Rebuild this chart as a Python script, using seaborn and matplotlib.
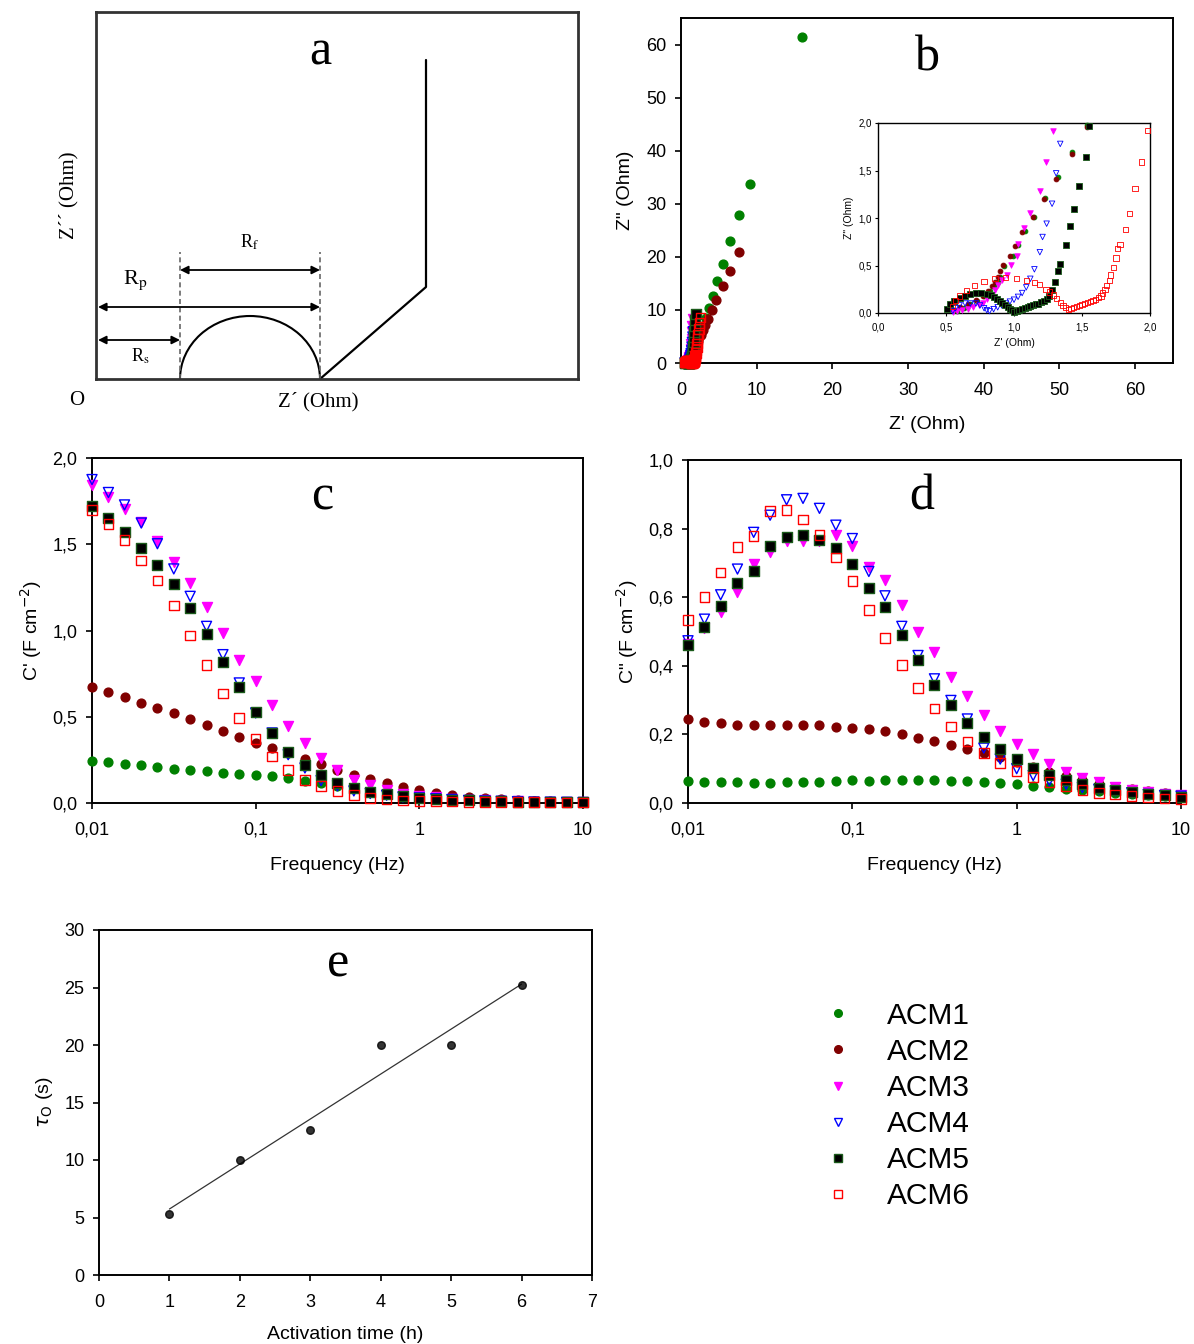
import numpy as np
import pandas as pd
import matplotlib
matplotlib.use("Agg")
import matplotlib.pyplot as plt
import seaborn as sns
from matplotlib.patches import Arc
from matplotlib.lines import Line2D
from matplotlib.ticker import FuncFormatter, NullLocator

# ---------------- data ----------------
series = ["ACM1", "ACM2", "ACM3", "ACM4", "ACM5", "ACM6"]

# Panel b : Nyquist data  (Z' , Z'')
b_zr_acm1 = [0.58, 0.63, 0.68, 0.73, 0.78, 0.82, 0.85, 0.88, 0.90, 0.93, 0.99, 1.03, 1.08, 1.15, 1.23, 1.32, 1.43, 1.54,
             1.68, 1.85, 2.05, 2.3, 2.6, 2.95, 3.3, 3.75, 4.2, 4.81, 5.5, 6.5, 7.6, 9.1, 16.0]
b_zi_acm1 = [0.02, 0.05, 0.09, 0.13, 0.18, 0.23, 0.28, 0.33, 0.38, 0.50, 0.60, 0.72, 0.86, 1.01, 1.21, 1.43, 1.70, 1.98,
             2.35, 2.9, 3.6, 4.5, 5.7, 7.0, 8.5, 10.3, 12.6, 15.4, 18.6, 22.9, 27.8, 33.7, 61.4]
b_zr_acm2 = [0.55, 0.60, 0.66, 0.72, 0.77, 0.81, 0.84, 0.86, 0.88, 0.90, 0.92, 0.97, 1.01, 1.06, 1.14, 1.22, 1.31, 1.43, 1.54,
             1.68, 1.85, 2.05, 2.3, 2.6, 2.9, 3.2, 3.58, 4.08, 4.6, 5.5, 6.45, 7.6]
b_zi_acm2 = [0.03, 0.06, 0.10, 0.14, 0.18, 0.23, 0.28, 0.33, 0.38, 0.44, 0.51, 0.60, 0.71, 0.85, 1.01, 1.20, 1.41, 1.67, 1.96,
             2.3, 2.8, 3.4, 4.2, 5.2, 6.2, 7.1, 8.2, 9.9, 11.9, 14.5, 17.4, 21.0]
b_zr_acm3 = [0.55, 0.58, 0.62, 0.66, 0.70, 0.74, 0.77, 0.80, 0.83, 0.86, 0.88, 0.91, 0.95, 0.98, 1.02, 1.03, 1.07, 1.12,
             1.19, 1.235, 1.29, 1.33, 1.37, 1.41, 1.45, 1.50, 1.55]
b_zi_acm3 = [0.01, 0.02, 0.03, 0.04, 0.06, 0.08, 0.11, 0.15, 0.19, 0.24, 0.30, 0.35, 0.40, 0.51, 0.60, 0.73, 0.90, 1.05,
             1.28, 1.59, 1.92, 2.6, 3.5, 4.6, 5.8, 7.0, 8.2]
b_zr_acm4 = [0.55, 0.57, 0.60, 0.64, 0.68, 0.72, 0.75, 0.78, 0.80, 0.82, 0.85, 0.88, 0.91, 0.94, 0.97, 1.00, 1.03, 1.06,
             1.09, 1.12, 1.15, 1.19, 1.21, 1.24, 1.28, 1.31, 1.34, 1.39, 1.44, 1.50, 1.56, 1.62]
b_zi_acm4 = [0.02, 0.05, 0.08, 0.10, 0.10, 0.10, 0.08, 0.05, 0.03, 0.02, 0.04, 0.06, 0.08, 0.10, 0.12, 0.14, 0.17, 0.21,
             0.27, 0.36, 0.46, 0.64, 0.80, 0.94, 1.15, 1.47, 1.78, 2.3, 3.0, 3.9, 4.9, 5.9]
b_zr_acm5 = [0.51, 0.53, 0.56, 0.60, 0.64, 0.68, 0.72, 0.76, 0.80, 0.83, 0.855, 0.875, 0.895, 0.915, 0.935, 0.955, 0.97,
             0.985, 1.00, 1.02, 1.04, 1.06, 1.08, 1.10, 1.12, 1.14, 1.16, 1.18, 1.20, 1.22, 1.24, 1.26, 1.28, 1.30,
             1.32, 1.34, 1.38, 1.41, 1.44, 1.48, 1.53, 1.55, 1.60, 1.64, 1.68, 1.72, 1.76, 1.81, 1.86, 1.92]
b_zi_acm5 = [0.04, 0.09, 0.13, 0.16, 0.18, 0.20, 0.21, 0.21, 0.20, 0.185, 0.165, 0.145, 0.125, 0.105, 0.085, 0.065, 0.045,
             0.03, 0.015, 0.02, 0.03, 0.04, 0.05, 0.06, 0.07, 0.08, 0.09, 0.10, 0.115, 0.13, 0.15, 0.18, 0.24, 0.33,
             0.44, 0.52, 0.72, 0.92, 1.10, 1.34, 1.64, 1.97, 2.5, 3.2, 4.0, 4.9, 5.9, 7.0, 8.1, 9.2]
b_zr_acm6 = [0.55, 0.57, 0.60, 0.65, 0.71, 0.78, 0.86, 0.94, 1.02, 1.09, 1.15, 1.19, 1.235, 1.26, 1.29, 1.31, 1.34, 1.36,
             1.38, 1.40, 1.42, 1.44, 1.46, 1.48, 1.50, 1.52, 1.54, 1.56, 1.58, 1.60, 1.62, 1.64, 1.65, 1.67, 1.68, 1.70,
             1.71, 1.73, 1.75, 1.76, 1.78, 1.82, 1.85, 1.89, 1.94, 1.98, 2.03, 2.08, 2.14, 2.20, 2.28, 2.36, 2.46, 2.58]
b_zi_acm6 = [0.07, 0.13, 0.18, 0.24, 0.29, 0.33, 0.36, 0.37, 0.36, 0.34, 0.32, 0.30, 0.25, 0.22, 0.19, 0.15, 0.11, 0.08,
             0.055, 0.04, 0.045, 0.06, 0.07, 0.08, 0.09, 0.10, 0.11, 0.12, 0.13, 0.14, 0.16, 0.18, 0.21, 0.25, 0.29, 0.34,
             0.40, 0.48, 0.58, 0.68, 0.72, 0.88, 1.05, 1.31, 1.59, 1.92, 2.4, 3.0, 3.7, 4.5, 5.4, 6.4, 7.5, 8.6]

# Panels c, d : frequency (Hz)
freq = [0.01, 0.0126, 0.0158, 0.02, 0.0251, 0.0316, 0.0398, 0.0501, 0.0631, 0.0794,
        0.1, 0.126, 0.158, 0.2, 0.251, 0.316, 0.398, 0.501, 0.631, 0.794,
        1.0, 1.26, 1.58, 2.0, 2.51, 3.16, 3.98, 5.01, 6.31, 7.94, 10.0]

c_acm1 = [0.245, 0.24, 0.228, 0.22, 0.21, 0.20, 0.19, 0.185, 0.175, 0.17, 0.16, 0.155, 0.145, 0.13, 0.115, 0.10,
          0.09, 0.07, 0.06, 0.05, 0.042, 0.035, 0.03, 0.025, 0.02, 0.016, 0.013, 0.01, 0.008, 0.006, 0.005]
c_acm2 = [0.675, 0.645, 0.615, 0.58, 0.55, 0.52, 0.485, 0.45, 0.415, 0.385, 0.345, 0.32, 0.29, 0.255, 0.225, 0.19,
          0.165, 0.14, 0.115, 0.095, 0.075, 0.06, 0.045, 0.035, 0.028, 0.022, 0.017, 0.013, 0.01, 0.008, 0.006]
c_acm3 = [1.845, 1.775, 1.705, 1.63, 1.52, 1.40, 1.275, 1.135, 0.985, 0.83, 0.705, 0.57, 0.448, 0.348, 0.26, 0.19,
          0.135, 0.104, 0.075, 0.055, 0.042, 0.032, 0.025, 0.02, 0.015, 0.012, 0.01, 0.008, 0.006, 0.005, 0.004]
c_acm4 = [1.875, 1.80, 1.728, 1.623, 1.503, 1.357, 1.198, 1.024, 0.86, 0.696, 0.522, 0.406, 0.28, 0.203, 0.13,
          0.10, 0.07, 0.055, 0.045, 0.035, 0.03, 0.025, 0.02, 0.015, 0.012, 0.01, 0.008, 0.006, 0.005, 0.004, 0.003]
c_acm5 = [1.724, 1.652, 1.57, 1.476, 1.38, 1.27, 1.13, 0.982, 0.82, 0.672, 0.527, 0.406, 0.296, 0.222, 0.164,
          0.116, 0.087, 0.065, 0.05, 0.04, 0.03, 0.025, 0.02, 0.015, 0.012, 0.01, 0.008, 0.006, 0.005, 0.004, 0.003]
c_acm6 = [1.697, 1.617, 1.523, 1.405, 1.29, 1.144, 0.97, 0.80, 0.634, 0.493, 0.371, 0.27, 0.193, 0.135, 0.097,
          0.068, 0.045, 0.03, 0.02, 0.015, 0.012, 0.01, 0.008, 0.007, 0.006, 0.005, 0.004, 0.004, 0.003, 0.003, 0.003]

d_acm1 = [0.063, 0.062, 0.060, 0.060, 0.058, 0.058, 0.060, 0.060, 0.062, 0.063, 0.066, 0.063, 0.066, 0.066, 0.066,
          0.066, 0.063, 0.063, 0.060, 0.058, 0.055, 0.050, 0.046, 0.042, 0.038, 0.034, 0.030, 0.027, 0.024, 0.021, 0.019]
d_acm2 = [0.245, 0.237, 0.232, 0.228, 0.228, 0.228, 0.228, 0.228, 0.228, 0.222, 0.22, 0.216, 0.21, 0.20, 0.19,
          0.18, 0.168, 0.156, 0.145, 0.134, 0.12, 0.105, 0.09, 0.078, 0.066, 0.056, 0.047, 0.04, 0.034, 0.028, 0.023]
d_acm3 = [0.465, 0.51, 0.558, 0.614, 0.696, 0.732, 0.764, 0.764, 0.765, 0.782, 0.75, 0.689, 0.651, 0.577, 0.50,
          0.44, 0.367, 0.311, 0.257, 0.211, 0.173, 0.144, 0.115, 0.09, 0.072, 0.06, 0.048, 0.038, 0.032, 0.027, 0.022]
d_acm4 = [0.473, 0.536, 0.607, 0.682, 0.789, 0.839, 0.884, 0.888, 0.859, 0.81, 0.771, 0.675, 0.604, 0.515, 0.43,
          0.362, 0.299, 0.245, 0.16, 0.128, 0.10, 0.08, 0.065, 0.055, 0.045, 0.04, 0.035, 0.03, 0.025, 0.022, 0.02]
d_acm5 = [0.461, 0.512, 0.573, 0.64, 0.675, 0.75, 0.776, 0.782, 0.766, 0.743, 0.696, 0.627, 0.57, 0.49, 0.417,
          0.344, 0.287, 0.234, 0.192, 0.156, 0.127, 0.102, 0.082, 0.068, 0.055, 0.045, 0.038, 0.032, 0.027, 0.022, 0.018]
d_acm6 = [0.534, 0.601, 0.672, 0.747, 0.779, 0.852, 0.854, 0.827, 0.781, 0.716, 0.648, 0.563, 0.481, 0.403, 0.336,
          0.276, 0.223, 0.179, 0.146, 0.116, 0.093, 0.076, 0.061, 0.048, 0.038, 0.03, 0.025, 0.02, 0.016, 0.013, 0.012]

# Panel e
activation_time = [1, 2, 3, 4, 5, 6]
tau_o = [5.3, 10.0, 12.6, 20.0, 20.0, 25.2]

# ---------------- styles ----------------
styles = {
    "ACM1": dict(marker="o", color="#008000", face="#008000", edge="#008000", s=40),
    "ACM2": dict(marker="o", color="#800000", face="#800000", edge="#800000", s=40),
    "ACM3": dict(marker="v", color="#FF00FF", face="#FF00FF", edge="#FF00FF", s=52),
    "ACM4": dict(marker="v", color="#0000FF", face="none", edge="#0000FF", s=52),
    "ACM5": dict(marker="s", color="black", face="black", edge="#1a5a1a", s=48),
    "ACM6": dict(marker="s", color="red", face="none", edge="#FF0000", s=48),
}

sns.set_style("ticks")
plt.rcParams["font.family"] = ["Liberation Sans", "DejaVu Sans"]
plt.rcParams["axes.linewidth"] = 1.4
plt.rcParams["axes.edgecolor"] = "black"
plt.rcParams["axes.labelcolor"] = "black"
plt.rcParams["text.color"] = "black"
plt.rcParams["xtick.color"] = "black"
plt.rcParams["ytick.color"] = "black"
plt.rcParams["xtick.major.width"] = 1.2
plt.rcParams["ytick.major.width"] = 1.2
plt.rcParams["xtick.major.size"] = 4
plt.rcParams["ytick.major.size"] = 4

W, H = 1194, 1344
fig = plt.figure(figsize=(W / 100, H / 100), dpi=100)


def rect(left, top, right, bottom):
    return [left / W, 1 - bottom / H, (right - left) / W, (bottom - top) / H]


def comma(fmt):
    return FuncFormatter(lambda v, p: format(v, fmt).replace(".", ","))


def scat(ax, x, y, name, scale=1.0):
    st = styles[name]
    sns.scatterplot(x=x, y=y, ax=ax, marker=st["marker"], color=st["color"],
                    facecolor=st["face"], edgecolor=st["edge"], s=st["s"] * scale,
                    linewidth=1.0 * max(scale, 0.6), legend=False, clip_on=False, zorder=3)


def main_ticks(ax):
    ax.tick_params(labelsize=13, direction="out", length=4)
    ax.tick_params(axis="x", pad=9.5)
    ax.tick_params(axis="y", pad=6.5)


def panel_letter(x, y, txt):
    fig.text(x / W, 1 - y / H, txt, fontsize=36, family="Liberation Serif",
             ha="center", va="center")

# ---------------- panel a (schematic) ----------------
axA = fig.add_axes(rect(96, 12, 578, 379))
axA.set_xlim(0, 482)
axA.set_ylim(0, 367)
axA.set_xticks([])
axA.set_yticks([])
for sp in axA.spines.values():
    sp.set_linewidth(2)
    sp.set_color("#333333")
semi_center, semi_w, semi_h = 154, 140, 126
axA.add_patch(Arc((semi_center, 0), semi_w, semi_h, theta1=0, theta2=180, lw=1.5, color="black"))
warburg_x = [224, 330, 330]
warburg_y = [0, 92, 319]
axA.plot(warburg_x, warburg_y, color="black", lw=1.6)
for xd in (84, 224):
    axA.plot([xd, xd], [0, 127], ls=(0, (3, 2)), color="#666666", lw=1.2)
arrow_kw = dict(arrowstyle="<|-|>", lw=1.3, color="black", mutation_scale=12, shrinkA=0, shrinkB=0)
axA.annotate("", xy=(84, 109), xytext=(224, 109), arrowprops=arrow_kw)
axA.annotate("", xy=(2, 72), xytext=(224, 72), arrowprops=arrow_kw)
axA.annotate("", xy=(2, 39), xytext=(84, 39), arrowprops=arrow_kw)
axA.text(154, 137, r"R$_\mathrm{f}$", fontsize=13, family="Liberation Serif", math_fontfamily="stix",
         ha="center", va="center")
axA.text(39, 99, r"R$_\mathrm{p}$", fontsize=16, family="Liberation Serif", math_fontfamily="stix",
         ha="center", va="center")
axA.text(44, 23, r"R$_\mathrm{s}$", fontsize=13, family="Liberation Serif", math_fontfamily="stix",
         ha="center", va="center")
axA.text(-19, -21, "O", fontsize=15, family="Liberation Serif", ha="center", va="center")
axA.text(222, -23, "Z\u00b4 (Ohm)", fontsize=15, family="Liberation Serif", ha="center", va="center")
axA.text(-27, 184, "Z\u00b4\u00b4 (Ohm)", fontsize=15, family="Liberation Serif", ha="center",
         va="center", rotation=90)
panel_letter(320, 52, "a")

# ---------------- panel b ----------------
b_data = {
    "ACM1": (b_zr_acm1, b_zi_acm1), "ACM2": (b_zr_acm2, b_zi_acm2), "ACM3": (b_zr_acm3, b_zi_acm3),
    "ACM4": (b_zr_acm4, b_zi_acm4), "ACM5": (b_zr_acm5, b_zi_acm5), "ACM6": (b_zr_acm6, b_zi_acm6),
}
axB = fig.add_axes(rect(681, 18, 1173, 363))
for name in series:
    scat(axB, b_data[name][0], b_data[name][1], name, scale=1.0)
axB.set_xlim(0, 65)
axB.set_ylim(0, 65)
axB.set_xticks([0, 10, 20, 30, 40, 50, 60])
axB.set_yticks([0, 10, 20, 30, 40, 50, 60])
main_ticks(axB)
axB.set_xlabel("Z' (Ohm)", fontsize=14, labelpad=12.5)
axB.set_ylabel('Z" (Ohm)', fontsize=14, labelpad=8.5)
panel_letter(927, 58, "b")

axIn = fig.add_axes(rect(878, 123, 1150, 313))
for name in series:
    sub = [(x, y) for x, y in zip(*b_data[name]) if x <= 2.0 and y <= 2.0]
    scat(axIn, [p[0] for p in sub], [p[1] for p in sub], name, scale=0.3)
axIn.set_xlim(0, 2)
axIn.set_ylim(0, 2)
axIn.set_xticks([0, 0.5, 1.0, 1.5, 2.0])
axIn.set_yticks([0, 0.5, 1.0, 1.5, 2.0])
axIn.xaxis.set_major_formatter(comma(".1f"))
axIn.yaxis.set_major_formatter(comma(".1f"))
axIn.tick_params(labelsize=7, length=2.5, width=0.8, pad=2, direction="out")
axIn.tick_params(axis="x", pad=4)
for sp in axIn.spines.values():
    sp.set_linewidth(1.0)
axIn.set_xlabel("Z' (Ohm)", fontsize=7.5, labelpad=4)
axIn.set_ylabel('Z" (Ohm)', fontsize=7.5, labelpad=3)

# ---------------- panels c, d ----------------
c_data = dict(zip(series, [c_acm1, c_acm2, c_acm3, c_acm4, c_acm5, c_acm6]))
d_data = dict(zip(series, [d_acm1, d_acm2, d_acm3, d_acm4, d_acm5, d_acm6]))


def freq_axes(ax, ymax, yticks, ylabel):
    ax.set_xscale("log")
    ax.set_xlim(0.01, 10)
    ax.set_ylim(0, ymax)
    ax.set_xticks([0.01, 0.1, 1, 10])
    ax.set_xticklabels(["0,01", "0,1", "1", "10"])
    ax.xaxis.set_minor_locator(NullLocator())
    ax.set_yticks(yticks)
    ax.yaxis.set_major_formatter(comma(".1f"))
    main_ticks(ax)
    ax.set_xlabel("Frequency (Hz)", fontsize=14, labelpad=13.5)
    ax.set_ylabel(ylabel, fontsize=14, labelpad=6)


axC = fig.add_axes(rect(92, 458, 583, 803))
for name in series:
    scat(axC, freq, c_data[name], name)
freq_axes(axC, 2.0, [0, 0.5, 1.0, 1.5, 2.0], r"C' (F cm$^{-2}$)")
panel_letter(322, 497, "c")

axD = fig.add_axes(rect(688, 460, 1181, 803))
for name in series:
    scat(axD, freq, d_data[name], name)
freq_axes(axD, 1.0, [0, 0.2, 0.4, 0.6, 0.8, 1.0], r'C" (F cm$^{-2}$)')
panel_letter(922, 497, "d")

# ---------------- panel e ----------------
axE = fig.add_axes(rect(99, 930, 592, 1275))
sns.regplot(x=activation_time, y=tau_o, ax=axE, ci=None, color="black", truncate=True,
            scatter_kws=dict(s=30, zorder=3), line_kws=dict(lw=0.9, color="#333333"))
axE.set_xlim(0, 7)
axE.set_ylim(0, 30)
axE.set_xticks(range(0, 8))
axE.set_yticks(range(0, 31, 5))
main_ticks(axE)
axE.set_xlabel("Activation time (h)", fontsize=14, labelpad=11)
axE.set_ylabel(r"$\tau_\mathrm{O}$ (s)", fontsize=14, labelpad=7, math_fontfamily="dejavusans")
panel_letter(338, 964, "e")

# ---------------- legend ----------------
handles = [Line2D([], [], linestyle="none", marker=styles[n]["marker"], markersize=5.5,
                  markerfacecolor=styles[n]["face"], markeredgecolor=styles[n]["edge"],
                  markeredgewidth=1.0) for n in series]
fig.legend(handles, series, loc="center left", bbox_to_anchor=(823 / W, 1 - 1106 / H),
           frameon=False, fontsize=21.5, handlelength=1.0, handletextpad=1.15,
           labelspacing=0.27, borderpad=0, borderaxespad=0)

fig.savefig("out.png", dpi=100)
